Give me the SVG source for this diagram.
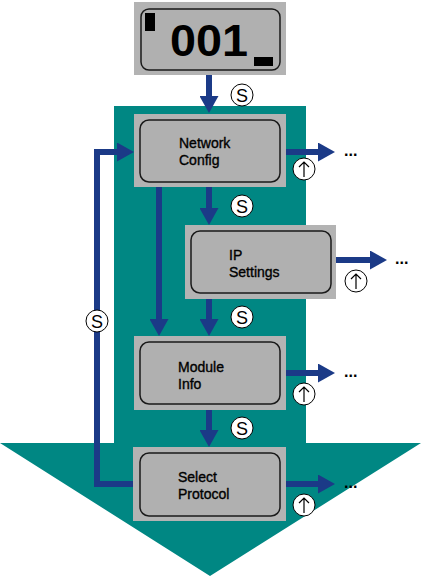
<svg xmlns="http://www.w3.org/2000/svg" width="435" height="576" viewBox="0 0 435 576">
<style>
.outer{fill:#b3b3b3;}
.inner{fill:#b0b0b0;stroke:#1a1a1a;stroke-width:1.5;}
.lbl{font-family:"Liberation Sans",Arial,sans-serif;font-size:14px;fill:#000;stroke:#000;stroke-width:0.35;}
.conn{stroke:#1b3a87;stroke-width:6;fill:none;}
.circ{fill:#fff;stroke:#000;stroke-width:1;}
.s{font-family:"Liberation Sans",Arial,sans-serif;font-size:18px;fill:#000;text-anchor:middle;}
.up{stroke:#000;stroke-width:1.2;fill:none;}
.dots{font-family:"Liberation Sans",Arial,sans-serif;font-size:16px;font-weight:bold;fill:#000;}
</style>
<defs>
<marker id="ah" viewBox="0 0 17 19" refX="0" refY="9.5" markerWidth="17" markerHeight="19" markerUnits="userSpaceOnUse" orient="auto">
<path d="M0,0 L17,9.5 L0,19 z" fill="#1b3a87"/>
</marker>
<g id="upsym">
<circle r="11" class="circ"/>
<path d="M0,8 V-7 M-5,-2 L0,-7 L5,-2" class="up"/>
</g>
</defs>
<g id="background">
<path d="M114,106 H306 V443 H421 L210,576 L0,443 H114 Z" fill="#008783"/>
</g>
<g id="display">
<rect x="134" y="2" width="152" height="73" class="outer"/>
<rect x="141" y="9" width="139" height="61" rx="8" class="inner"/>
<rect x="145" y="13" width="10" height="18" fill="#000"/>
<rect x="254" y="57" width="19" height="9" fill="#000"/>
<text x="170" y="56" font-family="Liberation Sans,Arial,sans-serif" font-size="44" font-weight="bold" textLength="78" lengthAdjust="spacingAndGlyphs">001</text>
</g>
<g id="connectors">
<line x1="209" y1="75" x2="209" y2="96" class="conn" marker-end="url(#ah)"/>
<line x1="209" y1="187" x2="209" y2="208" class="conn" marker-end="url(#ah)"/>
<line x1="159" y1="187" x2="159" y2="319" class="conn" marker-end="url(#ah)"/>
<line x1="209" y1="299" x2="209" y2="319" class="conn" marker-end="url(#ah)"/>
<line x1="209" y1="410" x2="209" y2="430" class="conn" marker-end="url(#ah)"/>
<polyline points="134,484 97,484 97,152 117,152" class="conn" marker-end="url(#ah)"/>
<line x1="286" y1="152" x2="318" y2="152" class="conn" marker-end="url(#ah)"/>
<line x1="336" y1="260" x2="370" y2="260" class="conn" marker-end="url(#ah)"/>
<line x1="286" y1="373" x2="318" y2="373" class="conn" marker-end="url(#ah)"/>
<line x1="286" y1="484" x2="318" y2="484" class="conn" marker-end="url(#ah)"/>
</g>
<g id="network-config">
<rect x="134" y="114" width="152" height="73" class="outer"/>
<rect x="140" y="120" width="140" height="62" rx="9" class="inner"/>
<text class="lbl" x="179" y="148">Network</text>
<text class="lbl" x="179" y="165">Config</text>
</g>
<g id="ip-settings">
<rect x="185" y="225" width="151" height="74" class="outer"/>
<rect x="191" y="231" width="140" height="62" rx="9" class="inner"/>
<text class="lbl" x="229" y="260">IP</text>
<text class="lbl" x="229" y="277">Settings</text>
</g>
<g id="module-info">
<rect x="134" y="336" width="152" height="74" class="outer"/>
<rect x="140" y="342" width="140" height="62" rx="9" class="inner"/>
<text class="lbl" x="178" y="372">Module</text>
<text class="lbl" x="178" y="389">Info</text>
</g>
<g id="select-protocol">
<rect x="133" y="447" width="153" height="74" class="outer"/>
<rect x="140" y="453" width="140" height="63" rx="9" class="inner"/>
<text class="lbl" x="178" y="482">Select</text>
<text class="lbl" x="178" y="499">Protocol</text>
</g>
<g id="labels">
<circle cx="242" cy="95" r="11" class="circ"/><text class="s" x="242" y="101.5">S</text>
<circle cx="242" cy="206" r="11" class="circ"/><text class="s" x="242" y="212.5">S</text>
<circle cx="242" cy="317" r="11" class="circ"/><text class="s" x="242" y="323.5">S</text>
<circle cx="242" cy="428" r="11" class="circ"/><text class="s" x="242" y="434.5">S</text>
<circle cx="97" cy="321" r="11" class="circ"/><text class="s" x="97" y="327.5">S</text>
<use href="#upsym" x="304" y="169"/>
<use href="#upsym" x="356" y="281"/>
<use href="#upsym" x="304" y="394"/>
<use href="#upsym" x="304" y="505"/>
<text class="dots" x="344" y="156">...</text>
<text class="dots" x="395" y="264">...</text>
<text class="dots" x="344" y="377">...</text>
<text class="dots" x="344" y="488">...</text>
</g>
</svg>
